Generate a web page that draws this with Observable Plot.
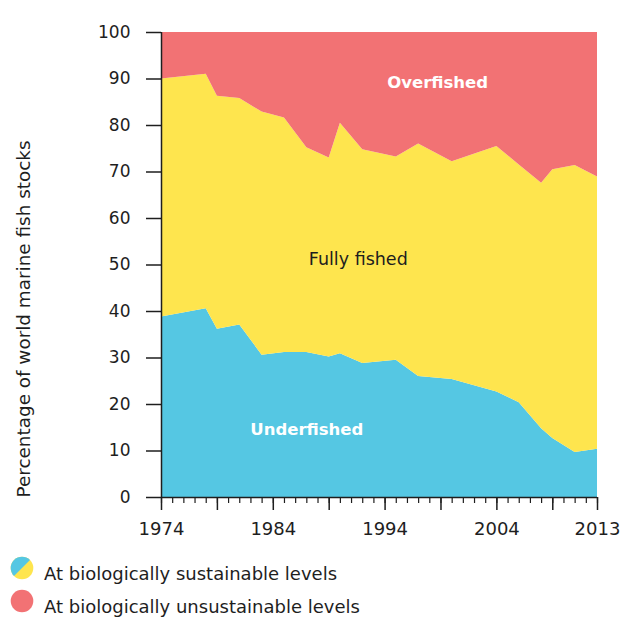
<!DOCTYPE html>
<html>
<head>
<meta charset="utf-8">
<script src="https://cdn.jsdelivr.net/npm/d3@7"></script>
<script src="https://cdn.jsdelivr.net/npm/@observablehq/plot@0.6"></script>
<style>
  body { margin: 0; background: #fff; font-family: "DejaVu Sans", sans-serif; color: #1e1e1e; }
  #chart svg { display: block; }
  .legend { margin-left: 10px; margin-top: 8px; font-size: 18px; }
  .legend .row { display: flex; align-items: center; height: 33px; }
  .legend svg { margin-right: 10px; flex: none; position: relative; top: -3px; }
  .legend span { position: relative; top: 3px; }
</style>
</head>
<body>
<div id="chart"></div>
<div class="legend">
  <div class="row">
    <svg width="24" height="24" viewBox="-12 -12 24 24">
      <clipPath id="c1"><circle r="11.3"></circle></clipPath>
      <g clip-path="url(#c1)">
        <rect x="-12" y="-12" width="24" height="24" fill="#fee54e"></rect>
        <path d="M-12,12 L12,-12 L-12,-12 Z" fill="#55c7e3"></path>
      </g>
    </svg>
    <span>At biologically sustainable levels</span>
  </div>
  <div class="row">
    <svg width="24" height="24" viewBox="-12 -12 24 24"><circle r="11.3" fill="#f27274"></circle></svg>
    <span>At biologically unsustainable levels</span>
  </div>
</div>
<script>
const years       = [1974,1978,1979,1981,1983,1985,1987,1989,1990,1992,1995,1997,2000,2004,2006,2008,2009,2011,2013];
const underfished = [38.8,40.6,36.2,37.1,30.6,31.2,31.2,30.2,30.9,28.8,29.5,26.0,25.4,22.7,20.4,14.8,12.7, 9.7,10.4];
const fullyFished = [51.2,50.4,50.1,48.7,52.3,50.4,44.0,42.8,49.6,46.0,43.7,50.0,46.8,52.8,51.1,52.8,57.8,61.7,58.5];
const overfished  = [10.0, 9.0,13.7,14.2,17.1,18.4,24.8,27.0,19.5,25.2,26.8,24.0,27.8,24.5,28.5,32.4,29.5,28.6,31.1];

const categories = ["Underfished", "Fully fished", "Overfished"];
const colors = ["#55c7e3", "#fee54e", "#f27274"];
const labelYears = [1987, 1991.6, 1998.7];
const labelValues = [14.6, 51.3, 89.3];
const yTitle = ["Percentage of world marine fish stocks"];

const yTicks = [0,10,20,30,40,50,60,70,80,90,100];
const xLabelTicks = [1974,1984,1994,2004,2013];
const xMajorTicks = [1974,1979,1984,1989,1994,1999,2004,2009,2013];
const xMinorTicks = d3.range(1974, 2014);

const series = [underfished, fullyFished, overfished];
const data = [];
categories.forEach((c, i) => years.forEach((yr, j) => data.push({year: yr, category: c, value: series[i][j]})));
const labels = categories.map((c, i) => ({category: c, year: labelYears[i], value: labelValues[i]}));
const whiteLabels = labels.filter(d => d.category !== "Fully fished");
const darkLabels = labels.filter(d => d.category === "Fully fished");

const chart = Plot.plot({
  width: 621,
  height: 546,
  marginLeft: 161,
  marginRight: 24,
  marginTop: 32,
  marginBottom: 49,
  style: {fontFamily: "'DejaVu Sans', sans-serif", fontSize: "18px", color: "#1e1e1e", background: "#fff"},
  x: {domain: [1974, 2013]},
  y: {domain: [0, 100]},
  color: {domain: categories, range: colors},
  marks: [
    Plot.areaY(data, {x: "year", y: "value", fill: "category", order: categories, curve: "linear"}),
    Plot.axisY({ticks: yTicks, tickSize: 15, tickPadding: 16, strokeWidth: 1.5, fontSize: 17, label: null}),
    Plot.axisX({ticks: xMinorTicks, tickSize: 6, strokeWidth: 1.2, fill: "none", label: null}),
    Plot.axisX({ticks: xMajorTicks, tickSize: 13, strokeWidth: 1.5, fill: "none", label: null}),
    Plot.axisX({ticks: xLabelTicks, tickSize: 0, tickPadding: 25, tickFormat: "d", fontSize: 18, label: null}),
    Plot.ruleY([0], {stroke: "#1e1e1e", strokeWidth: 1.5}),
    Plot.ruleX([1974], {stroke: "#1e1e1e", strokeWidth: 1.5}),
    Plot.text(yTitle, {frameAnchor: "bottom-left", rotate: -90, textAnchor: "start", dx: -132, fontSize: 18.4, fill: "#1e1e1e"}),
    Plot.text(whiteLabels, {x: "year", y: "value", text: "category", fill: "#ffffff", fontWeight: "bold", fontSize: 16.5}),
    Plot.text(darkLabels, {x: "year", y: "value", text: "category", fill: "#1e1e1e", fontWeight: "normal", fontSize: 17.5})
  ]
});
document.getElementById("chart").append(chart);
</script>
</body>
</html>
